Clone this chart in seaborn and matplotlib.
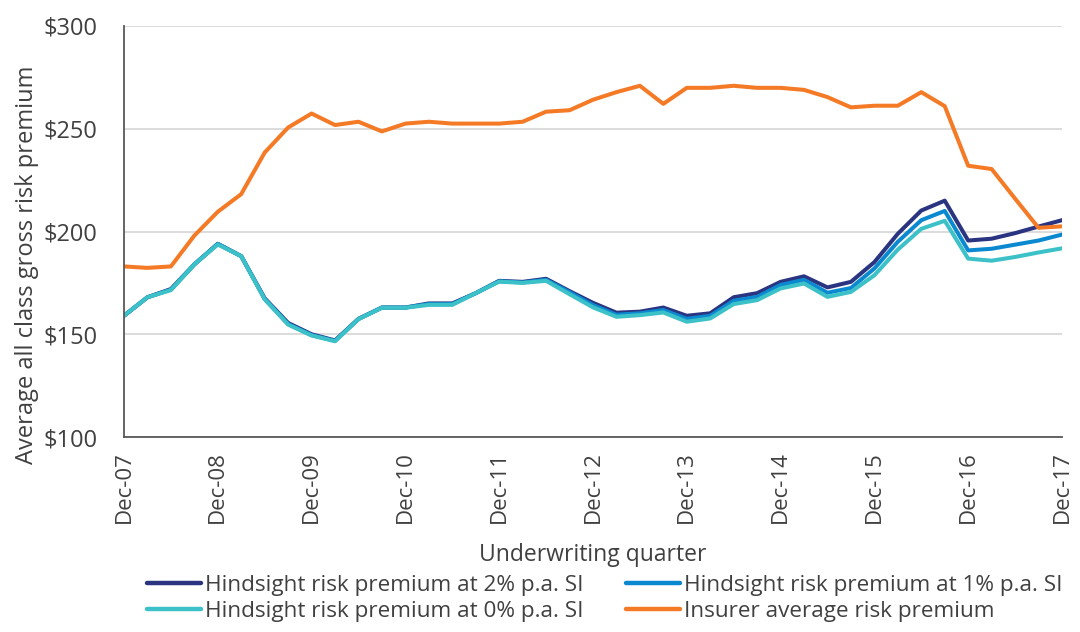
import numpy as np
import pandas as pd
import matplotlib
matplotlib.use("Agg")
import matplotlib.pyplot as plt
import seaborn as sns

# Quarterly series, Dec-07 to Dec-17 (41 underwriting quarters)
hindsight_2pct = [159, 168, 172, 184, 194, 188, 167.5, 155.5, 150, 147, 157.5, 163, 163, 165, 165,
                  170, 176, 175.5, 177, 171, 165.3, 160.5, 161, 163, 159, 160.2, 168, 170, 175.5,
                  178.2, 172.8, 175.5, 185.1, 198.9, 210.2, 215, 195.6, 196.5, 199.2, 202.4, 205.5]
hindsight_1pct = [159, 168, 171.7, 184, 194, 188, 167.2, 155, 149.6, 146.8, 157.4, 163, 163, 164.7, 164.7,
                  170, 175.8, 175.2, 176.5, 170.5, 164.2, 159.5, 160.2, 161.8, 157.5, 159, 166.3, 168.2, 174,
                  176.5, 170.2, 172.5, 182, 195, 205.5, 210, 190.8, 191.6, 193.6, 195.6, 198.5]
hindsight_0pct = [159, 168, 171.5, 184, 193.7, 188, 167, 154.7, 149.4, 146.6, 157.4, 162.9, 162.9, 164.3, 164.3,
                  170, 175.6, 175, 176, 169.5, 163.1, 158.5, 159.3, 160.6, 156.1, 157.7, 164.7, 166.6, 172.3,
                  174.7, 168.2, 170.6, 178.7, 191.2, 201.3, 205.2, 186.8, 185.8, 187.6, 189.8, 191.8]
insurer_avg = [183, 182.3, 183, 198, 209.6, 218.2, 238.4, 250.6, 257.4, 251.8, 253.4, 248.7, 252.5, 253.4, 252.5,
               252.5, 252.5, 253.4, 258.3, 259, 264.1, 267.8, 270.9, 262.1, 269.9, 269.9, 270.9, 269.9, 269.9,
               268.9, 265.4, 260.4, 261.2, 261.2, 267.8, 261, 232, 230.4, 216, 201.8, 202.5]

series_names = ["Hindsight risk premium at 2% p.a. SI",
                "Hindsight risk premium at 1% p.a. SI",
                "Hindsight risk premium at 0% p.a. SI",
                "Insurer average risk premium"]
series_colors = ["#2a3480", "#0b89d0", "#3bc1c7", "#f47a26"]

tick_labels = ["Dec-07", "Dec-08", "Dec-09", "Dec-10", "Dec-11", "Dec-12",
               "Dec-13", "Dec-14", "Dec-15", "Dec-16", "Dec-17"]
y_ticks = [100, 150, 200, 250, 300]

quarters = np.arange(len(insurer_avg))
frames = []
for name, vals in zip(series_names, [hindsight_2pct, hindsight_1pct, hindsight_0pct, insurer_avg]):
    frames.append(pd.DataFrame({"quarter": quarters, "premium": vals, "series": name}))
df = pd.concat(frames, ignore_index=True)

sns.set_theme(style="white")
plt.rcParams["font.family"] = ["Open Sans", "DejaVu Sans"]
text_color = "#404040"

fig = plt.figure(figsize=(10.8, 6.32), dpi=100)
ax = fig.add_axes([0.1148, 0.3085, 0.9833 - 0.1148, 0.9589 - 0.3085])

sns.lineplot(data=df, x="quarter", y="premium", hue="series", hue_order=series_names,
             palette=dict(zip(series_names, series_colors)), linewidth=2.9, ax=ax,
             legend=True)

ax.set_xlim(0, 40)
ax.set_ylim(100, 300)
ax.set_yticks(y_ticks)
ax.set_yticklabels([f"${v}" for v in y_ticks], fontsize=17, color=text_color)
ax.set_xticks(np.arange(0, 41, 4))
ax.set_xticklabels(tick_labels, rotation=90, fontsize=16, color=text_color)
ax.grid(axis="y", color="#d9d9d9", linewidth=1.3)
ax.set_axisbelow(True)

for side in ["top", "right"]:
    ax.spines[side].set_visible(False)
for side in ["left", "bottom"]:
    ax.spines[side].set_color("#595959")
    ax.spines[side].set_linewidth(1.3)
ax.tick_params(axis="both", direction="out", length=6, width=1.3, color="#595959")
ax.tick_params(axis="y", pad=13)
ax.tick_params(axis="x", pad=4)

ax.set_xlabel("Underwriting quarter", fontsize=16.5, color=text_color)
ax.xaxis.set_label_coords(0.5, -0.258)
ax.set_ylabel("Average all class gross risk premium", fontsize=17, color=text_color)
ax.yaxis.set_label_coords(-0.091, 0.42)

handles, labels = ax.get_legend_handles_labels()
ax.legend_.remove()
order = [0, 2, 1, 3]
leg = fig.legend([handles[i] for i in order], [labels[i] for i in order],
                 loc="upper center", bbox_to_anchor=(0.56, 0.09), ncol=2, frameon=False,
                 fontsize=16.2, handlelength=2.4, handletextpad=0.17, columnspacing=1.9,
                 labelspacing=0.22, borderaxespad=0, borderpad=0)
for t in leg.get_texts():
    t.set_color(text_color)
for h in leg.get_lines():
    h.set_linewidth(3.2)

fig.savefig("out.png", dpi=100)
